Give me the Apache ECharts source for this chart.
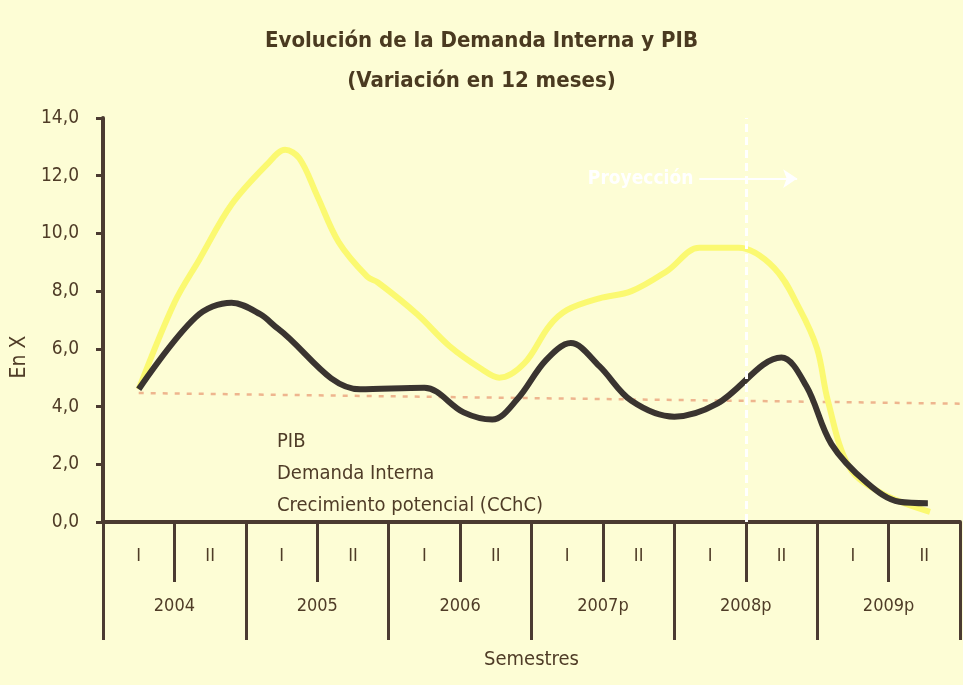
<!DOCTYPE html>
<html>
<head>
<meta charset="utf-8">
<script src="https://cdn.jsdelivr.net/npm/echarts@6/dist/echarts.min.js"></script>
<style>
  html, body { margin: 0; padding: 0; background: #fdfdd5; }
  #chart { width: 963px; height: 685px; }
</style>
</head>
<body>
<div id="chart"></div>
<script>
// semestres y años del eje x
var semestres = ['I', 'II', 'I', 'II', 'I', 'II', 'I', 'II', 'I', 'II', 'I', 'II'];
var anios = ['2004', '2005', '2006', '2007p', '2008p', '2009p'];
var yTicks = [0, 2, 4, 6, 8, 10, 12, 14];

// [posición en semestres, variación %]
var pib = [
  [0.5, 4.6], [1.3, 7.1], [1.8, 7.6], [2.2, 7.2], [2.45, 6.7], [3.6, 4.6],
  [4.5, 4.65], [5.05, 3.8], [5.45, 3.55], [5.8, 4.25], [6.2, 5.6], [6.55, 6.2],
  [6.95, 5.4], [7.4, 4.2], [8.0, 3.65], [8.6, 4.1], [9.5, 5.7], [9.85, 4.7],
  [10.2, 2.7], [10.7, 1.35], [11.15, 0.7], [11.55, 0.65]
];
var demanda = [
  [0.5, 4.6], [1.0, 7.6], [1.35, 9.1], [1.8, 11.0], [2.3, 12.4], [2.55, 12.9],
  [2.75, 12.6], [3.0, 11.3], [3.3, 9.7], [3.7, 8.5], [3.85, 8.3], [4.4, 7.2],
  [4.85, 6.1], [5.3, 5.3], [5.55, 5.0], [5.9, 5.5], [6.25, 6.8], [6.5, 7.35],
  [6.95, 7.75], [7.4, 8.0], [7.9, 8.7], [8.35, 9.5], [8.9, 9.5], [9.4, 8.8],
  [9.75, 7.4], [10.0, 6.0], [10.15, 4.2], [10.45, 1.9], [10.9, 1.0], [11.58, 0.35]
];
var cchc = [[0.5, 4.47], [12, 4.1]];
var proyeccionX = 9;
var flecha = [[8.35, 11.9], [9.72, 11.9]];

var FONT = "'Liberation Sans Narrow', 'DejaVu Sans Condensed', 'Roboto', sans-serif";
var TXT = '#4f3c27';
var AXIS = '#4b3b31';

var chart = echarts.init(document.getElementById('chart'));
chart.setOption({
  backgroundColor: '#fdfdd5',
  title: {
    left: 'center',
    top: 25,
    text: 'Evolución de la Demanda Interna y PIB',
    subtext: '(Variación en 12 meses)',
    itemGap: 18,
    textStyle: { fontFamily: FONT, fontSize: 22, fontWeight: 'bold', color: '#4a3a20' },
    subtextStyle: { fontFamily: FONT, fontSize: 22, fontWeight: 'bold', color: '#4a3a20' }
  },
  legend: {
    orient: 'vertical',
    left: 266,
    top: 427,
    itemWidth: 0,
    itemHeight: 0,
    itemGap: 12,
    selectedMode: false,
    data: ['PIB', 'Demanda Interna', 'Crecimiento potencial (CChC)'],
    textStyle: { fontFamily: FONT, fontSize: 20, color: TXT }
  },
  grid: { left: 103, right: 3, top: 118, bottom: 163 },
  xAxis: [
    {
      type: 'category',
      data: semestres,
      position: 'bottom',
      axisLine: { show: true, lineStyle: { color: AXIS, width: 4 } },
      axisTick: { show: true, interval: 0, length: 60, lineStyle: { color: AXIS, width: 3 } },
      axisLabel: { interval: 0, margin: 25, fontFamily: FONT, fontSize: 18, color: TXT }
    },
    {
      type: 'category',
      data: anios,
      position: 'bottom',
      name: 'Semestres',
      nameLocation: 'middle',
      nameGap: 128,
      nameTextStyle: { fontFamily: FONT, fontSize: 20, color: TXT },
      axisLine: { show: false },
      axisTick: { show: true, interval: 0, length: 118, lineStyle: { color: AXIS, width: 3 } },
      axisLabel: { interval: 0, margin: 75, fontFamily: FONT, fontSize: 18, color: TXT }
    },
    { type: 'value', min: 0, max: 12, show: false }
  ],
  yAxis: {
    type: 'value',
    min: yTicks[0],
    max: yTicks[yTicks.length - 1],
    interval: 2,
    name: 'En X',
    nameLocation: 'middle',
    nameGap: 66,
    nameTextStyle: { fontFamily: FONT, fontSize: 21, color: TXT, padding: [0, 74, 0, 0] },
    splitLine: { show: false },
    axisLine: { show: true, lineStyle: { color: AXIS, width: 4 } },
    axisTick: { show: true, length: 7, lineStyle: { color: AXIS, width: 3 } },
    axisLabel: {
      margin: 24,
      fontFamily: FONT,
      fontSize: 19,
      color: TXT,
      formatter: function (v) { return v.toFixed(1).replace('.', ','); }
    }
  },
  series: [
    {
      name: 'Crecimiento potencial (CChC)',
      type: 'line',
      xAxisIndex: 2,
      symbol: 'none',
      data: cchc,
      itemStyle: { color: '#eeb58e' },
      lineStyle: { color: '#eeb58e', width: 2.5, type: [5, 7] },
      z: 1
    },
    {
      name: 'Demanda Interna',
      type: 'line',
      xAxisIndex: 2,
      symbol: 'none',
      smooth: 0.35,
      data: demanda,
      itemStyle: { color: '#fbf971' },
      lineStyle: { color: '#fbf971', width: 6 },
      z: 2,
      markLine: {
        silent: true,
        symbol: 'none',
        lineStyle: { color: '#ffffff', width: 3, type: [8, 5] },
        label: { show: false },
        data: [{ xAxis: proyeccionX }]
      }
    },
    {
      name: 'PIB',
      type: 'line',
      xAxisIndex: 2,
      symbol: 'none',
      smooth: 0.35,
      data: pib,
      itemStyle: { color: '#3a3430' },
      lineStyle: { color: '#3a3430', width: 6 },
      z: 3,
      markLine: {
        silent: true,
        symbol: ['none', 'arrow'],
        symbolSize: [14, 14],
        lineStyle: { color: '#ffffff', width: 2, type: 'solid' },
        label: {
          show: true,
          position: 'start',
          distance: 6,
          formatter: 'Proyección',
          fontFamily: FONT,
          fontSize: 19,
          fontWeight: 'bold',
          color: '#ffffff'
        },
        data: [[{ coord: flecha[0] }, { coord: flecha[1] }]]
      }
    }
  ]
});
</script>
</body>
</html>
